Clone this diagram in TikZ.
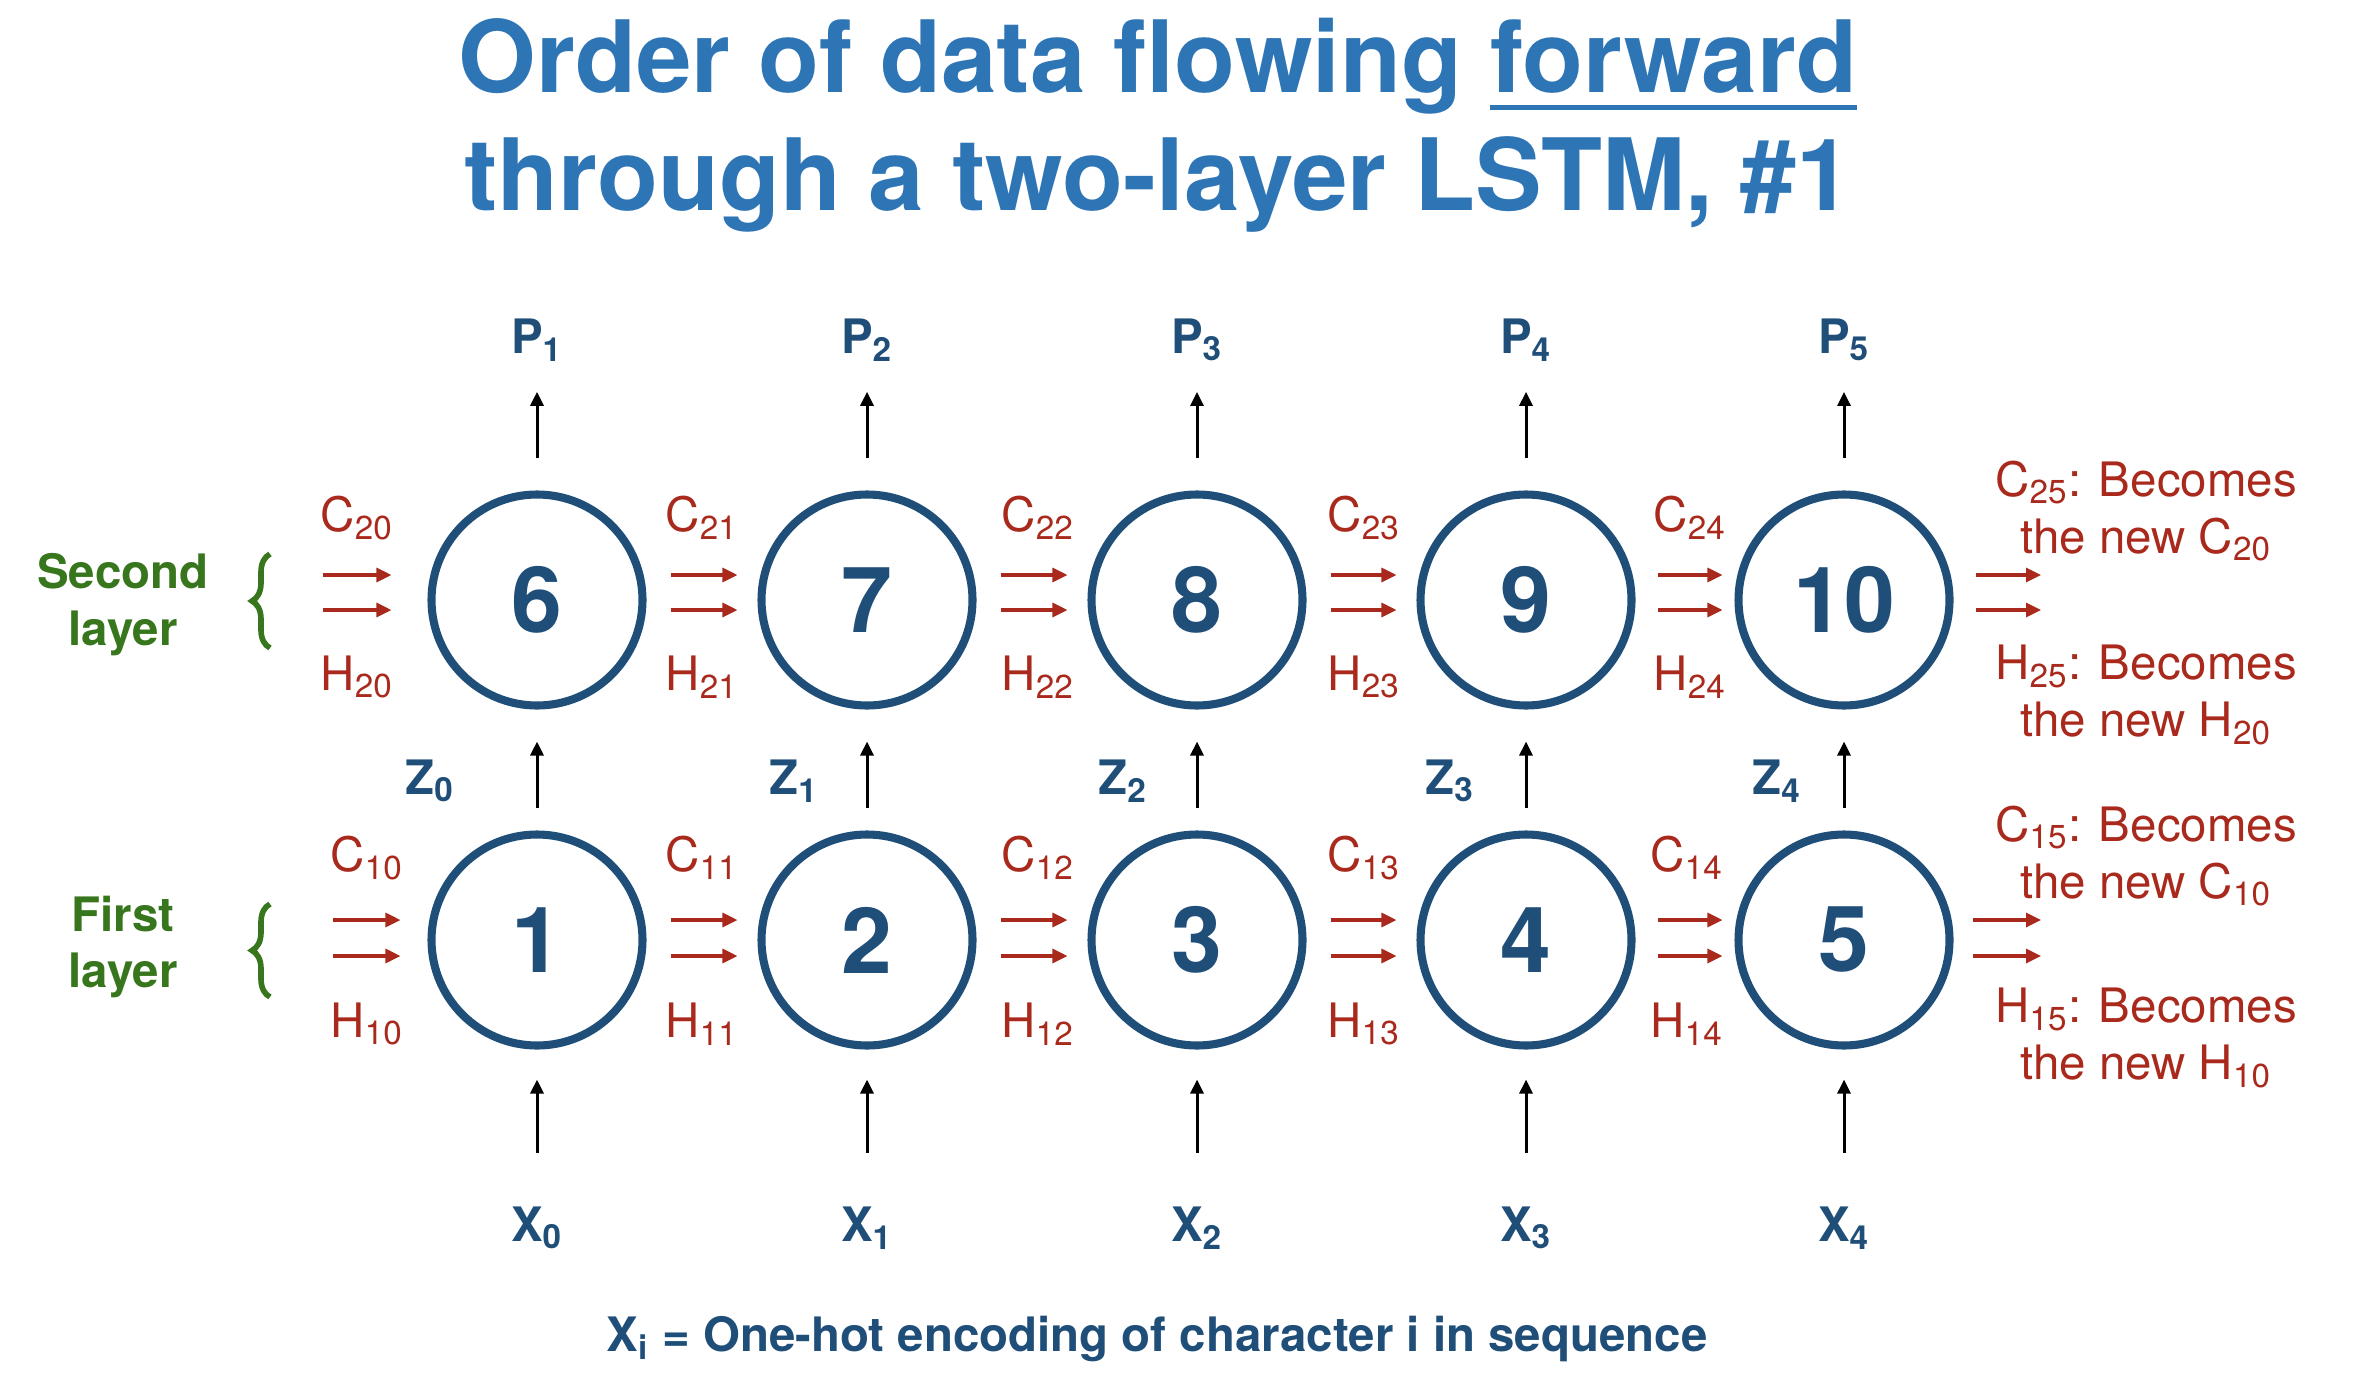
\documentclass[tikz,border=0pt]{standalone}
\usepackage{fontspec}
\setmainfont{TeX Gyre Heros}
\usepackage{xcolor}
\usepackage{tikz}
\usetikzlibrary{arrows.meta,positioning,calc,decorations.pathreplacing}

\definecolor{ttlblue}{RGB}{46,117,182}
\definecolor{cellblue}{RGB}{31,78,121}
\definecolor{flowred}{RGB}{169,42,28}
\definecolor{lyrgreen}{RGB}{56,118,29}
\newlength\ulwd
\newcommand\thickul[1]{\settowidth{\ulwd}{#1}\rlap{\rule[-5pt]{\ulwd}{1.4pt}}#1}
\newcommand\ix[1]{\textsubscript{#1}}

\begin{document}
\begin{tikzpicture}[
  cell/.style={circle,draw=cellblue,line width=2.3pt,minimum size=2.11cm,inner sep=0pt,
    text=cellblue,font=\fontsize{26}{30}\selectfont\bfseries},
  io/.style={text=cellblue,font=\fontsize{13.5}{16}\selectfont\bfseries,inner sep=0pt},
  st/.style={text=flowred,font=\fontsize{13.5}{16.2}\selectfont,inner sep=0pt,align=center},
  lyr/.style={text=lyrgreen,font=\fontsize{13.5}{16.2}\selectfont\bfseries,align=center,inner sep=0pt},
  ttl/.style={text=ttlblue,font=\fontsize{28.4}{33.5}\selectfont\bfseries,align=center,inner sep=0pt},
  up/.style={-{Triangle[length=0.14cm,width=0.13cm]},line width=0.85pt},
  flow/.style={-{Triangle[length=0.15cm,width=0.14cm]},line width=0.9pt,color=flowred},
  brc/.style={decorate,decoration={brace,amplitude=0.18cm},draw=lyrgreen,line width=1.6pt}]
 \useasboundingbox (0,0) rectangle (23.62,-13.80);
 \node[ttl] (title) at (11.58,-1.25) {Order of data flowing \thickul{forward}\\through a two-layer LSTM, \#1};
 % second layer
 \node[cell] (c6) at (5.37,-6.00) {6};
 \node[cell] (c7) at (8.67,-6.00) {7};
 \node[cell] (c8) at (11.97,-6.00) {8};
 \node[cell] (c9) at (15.26,-6.00) {9};
 \node[cell] (c10) at (18.44,-6.00) {10};
 % first layer
 \node[cell] (c1) at (5.37,-9.40) {1};
 \node[cell] (c2) at (8.67,-9.40) {2};
 \node[cell] (c3) at (11.97,-9.40) {3};
 \node[cell] (c4) at (15.26,-9.40) {4};
 \node[cell] (c5) at (18.44,-9.40) {5};
 % outputs, inputs, hand-over
 \node[io] (p1) at (5.37,-3.40) {P\ix{1}};
 \node[io] (p2) at (8.67,-3.40) {P\ix{2}};
 \node[io] (p3) at (11.97,-3.40) {P\ix{3}};
 \node[io] (p4) at (15.26,-3.40) {P\ix{4}};
 \node[io] (p5) at (18.44,-3.40) {P\ix{5}};
 \node[io] (x0) at (5.37,-12.28) {X\ix{0}};
 \node[io] (x1) at (8.67,-12.28) {X\ix{1}};
 \node[io] (x2) at (11.97,-12.28) {X\ix{2}};
 \node[io] (x3) at (15.26,-12.28) {X\ix{3}};
 \node[io] (x4) at (18.44,-12.28) {X\ix{4}};
 \node[io] (z0) at (4.30,-7.81) {Z\ix{0}};
 \node[io] (z1) at (7.94,-7.81) {Z\ix{1}};
 \node[io] (z2) at (11.23,-7.81) {Z\ix{2}};
 \node[io] (z3) at (14.50,-7.81) {Z\ix{3}};
 \node[io] (z4) at (17.77,-7.81) {Z\ix{4}};
 \node[io] (key) at (11.57,-13.39) {X\ix{i} = One-hot encoding of character i in sequence};
 % layer names
 \node[lyr] (snd) at (1.23,-6.05) {Second\\layer};
 \node[lyr] (fst) at (1.23,-9.47) {First\\layer};
 \draw[brc] (2.70,-6.48) -- (2.70,-5.54);
 \draw[brc] (2.70,-9.97) -- (2.70,-9.04);
 % states
 \node[st] (c20) at (3.57,-5.18) {C\ix{20}};
 \node[st] (h20) at (3.57,-6.77) {H\ix{20}};
 \node[st] (c21) at (7.02,-5.18) {C\ix{21}};
 \node[st] (h21) at (7.02,-6.77) {H\ix{21}};
 \node[st] (c22) at (10.38,-5.18) {C\ix{22}};
 \node[st] (h22) at (10.38,-6.77) {H\ix{22}};
 \node[st] (c23) at (13.64,-5.18) {C\ix{23}};
 \node[st] (h23) at (13.64,-6.77) {H\ix{23}};
 \node[st] (c24) at (16.90,-5.18) {C\ix{24}};
 \node[st] (h24) at (16.90,-6.77) {H\ix{24}};
 \node[st] (c10l) at (3.67,-8.58) {C\ix{10}};
 \node[st] (h10l) at (3.67,-10.24) {H\ix{10}};
 \node[st] (c11) at (7.02,-8.58) {C\ix{11}};
 \node[st] (h11) at (7.02,-10.24) {H\ix{11}};
 \node[st] (c12) at (10.38,-8.58) {C\ix{12}};
 \node[st] (h12) at (10.38,-10.24) {H\ix{12}};
 \node[st] (c13) at (13.64,-8.58) {C\ix{13}};
 \node[st] (h13) at (13.64,-10.24) {H\ix{13}};
 \node[st] (c14) at (16.87,-8.58) {C\ix{14}};
 \node[st] (h14) at (16.87,-10.24) {H\ix{14}};
 \node[st] (n25c) at (21.46,-5.11) {C\ix{25}: Becomes\\the new C\ix{20}};
 \node[st] (n25h) at (21.46,-6.95) {H\ix{25}: Becomes\\the new H\ix{20}};
 \node[st] (n15c) at (21.46,-8.56) {C\ix{15}: Becomes\\the new C\ix{10}};
 \node[st] (n15h) at (21.46,-10.38) {H\ix{15}: Becomes\\the new H\ix{10}};
 \coordinate (in6) at (3.23,-6.00);
 \coordinate (in1) at (3.33,-9.40);
 \coordinate (out10) at (20.41,-6.00);
 \coordinate (out5) at (20.41,-9.40);
 % state arrows, second layer
 \path[flow,shorten >=0.36cm] ([yshift=0.25cm]in6) edge ([yshift=0.25cm]c6.west) ([yshift=-0.1cm]in6) edge ([yshift=-0.1cm]c6.west);
 \path[flow,shorten <=0.24cm,shorten >=0.2cm] ([yshift=0.25cm]c6.east) edge ([yshift=0.25cm]c7.west) ([yshift=-0.1cm]c6.east) edge ([yshift=-0.1cm]c7.west);
 \path[flow,shorten <=0.24cm,shorten >=0.2cm] ([yshift=0.25cm]c7.east) edge ([yshift=0.25cm]c8.west) ([yshift=-0.1cm]c7.east) edge ([yshift=-0.1cm]c8.west);
 \path[flow,shorten <=0.24cm,shorten >=0.2cm] ([yshift=0.25cm]c8.east) edge ([yshift=0.25cm]c9.west) ([yshift=-0.1cm]c8.east) edge ([yshift=-0.1cm]c9.west);
 \path[flow,shorten <=0.22cm,shorten >=0.12cm] ([yshift=0.25cm]c9.east) edge ([yshift=0.25cm]c10.west) ([yshift=-0.1cm]c9.east) edge ([yshift=-0.1cm]c10.west);
 \path[flow,shorten <=0.22cm] ([yshift=0.25cm]c10.east) edge ([yshift=0.25cm]out10) ([yshift=-0.1cm]c10.east) edge ([yshift=-0.1cm]out10);
 % state arrows, first layer
 \path[flow,shorten >=0.27cm] ([yshift=0.2cm]in1) edge ([yshift=0.2cm]c1.west) ([yshift=-0.16cm]in1) edge ([yshift=-0.16cm]c1.west);
 \path[flow,shorten <=0.24cm,shorten >=0.2cm] ([yshift=0.2cm]c1.east) edge ([yshift=0.2cm]c2.west) ([yshift=-0.16cm]c1.east) edge ([yshift=-0.16cm]c2.west);
 \path[flow,shorten <=0.24cm,shorten >=0.2cm] ([yshift=0.2cm]c2.east) edge ([yshift=0.2cm]c3.west) ([yshift=-0.16cm]c2.east) edge ([yshift=-0.16cm]c3.west);
 \path[flow,shorten <=0.24cm,shorten >=0.2cm] ([yshift=0.2cm]c3.east) edge ([yshift=0.2cm]c4.west) ([yshift=-0.16cm]c3.east) edge ([yshift=-0.16cm]c4.west);
 \path[flow,shorten <=0.22cm,shorten >=0.12cm] ([yshift=0.2cm]c4.east) edge ([yshift=0.2cm]c5.west) ([yshift=-0.16cm]c4.east) edge ([yshift=-0.16cm]c5.west);
 \path[flow,shorten <=0.19cm] ([yshift=0.2cm]c5.east) edge ([yshift=0.2cm]out5) ([yshift=-0.16cm]c5.east) edge ([yshift=-0.16cm]out5);
 % vertical arrows
 \draw[up,shorten <=0.32cm,shorten >=0.30cm] (c6.north) -- (p1.south);
 \draw[up,shorten <=0.32cm,shorten >=0.30cm] (c7.north) -- (p2.south);
 \draw[up,shorten <=0.32cm,shorten >=0.30cm] (c8.north) -- (p3.south);
 \draw[up,shorten <=0.32cm,shorten >=0.30cm] (c9.north) -- (p4.south);
 \draw[up,shorten <=0.32cm,shorten >=0.30cm] (c10.north) -- (p5.south);
 \draw[up,shorten <=0.22cm,shorten >=0.32cm] (c1.north) -- (c6.south);
 \draw[up,shorten <=0.22cm,shorten >=0.32cm] (c2.north) -- (c7.south);
 \draw[up,shorten <=0.22cm,shorten >=0.32cm] (c3.north) -- (c8.south);
 \draw[up,shorten <=0.22cm,shorten >=0.32cm] (c4.north) -- (c9.south);
 \draw[up,shorten <=0.22cm,shorten >=0.32cm] (c5.north) -- (c10.south);
 \draw[up,shorten <=0.53cm,shorten >=0.30cm] (x0.north) -- (c1.south);
 \draw[up,shorten <=0.53cm,shorten >=0.30cm] (x1.north) -- (c2.south);
 \draw[up,shorten <=0.53cm,shorten >=0.30cm] (x2.north) -- (c3.south);
 \draw[up,shorten <=0.53cm,shorten >=0.30cm] (x3.north) -- (c4.south);
 \draw[up,shorten <=0.53cm,shorten >=0.30cm] (x4.north) -- (c5.south);
\end{tikzpicture}
\end{document}
